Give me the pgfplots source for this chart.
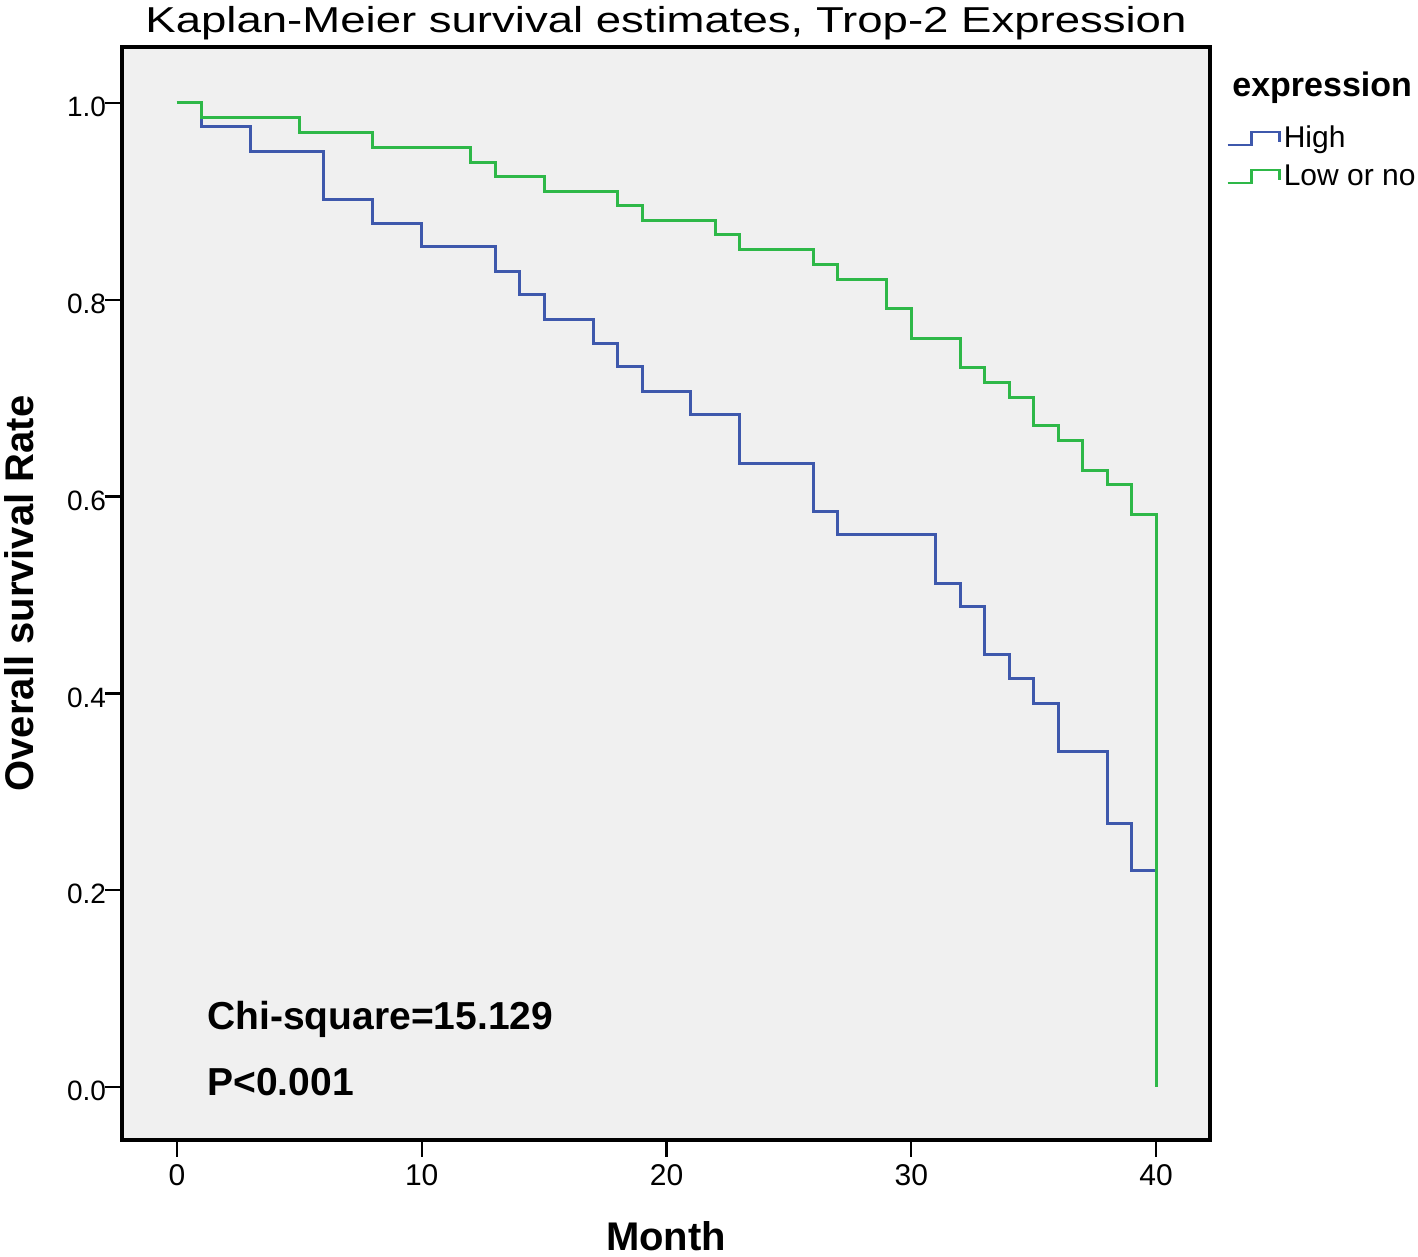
\documentclass[border=0pt]{standalone}
\usepackage{pgfplots}
\pgfplotsset{compat=1.18}
\usepackage{fontspec}
\setmainfont{Liberation Sans}
\definecolor{kmblue}{RGB}{62,88,172}
\definecolor{kmgreen}{RGB}{46,184,72}
\definecolor{bggray}{RGB}{240,240,240}

\pgfplotstableread{
t s
0 1
1 0.976
3 0.951
6 0.902
8 0.878
10 0.854
13 0.829
14 0.805
15 0.780
17 0.756
18 0.732
19 0.707
21 0.683
23 0.634
26 0.585
27 0.561
31 0.512
32 0.488
33 0.439
34 0.415
35 0.390
36 0.341
38 0.268
39 0.220
40 0
}\highdata

\pgfplotstableread{
t s
0 1
1 0.985
5 0.970
8 0.955
12 0.940
13 0.925
15 0.910
18 0.896
19 0.881
22 0.866
23 0.851
26 0.836
27 0.821
29 0.791
30 0.761
32 0.731
33 0.716
34 0.701
35 0.672
36 0.657
37 0.627
38 0.612
39 0.582
40 0
}\lowdata

\begin{document}
\begin{tikzpicture}
\begin{axis}[
  scale only axis, width=544pt, height=546.5pt,
  xmin=-2.247, xmax=42.206, ymin=-0.0539, ymax=1.0569,
  axis background/.style={fill=bggray},
  axis line style={black, line width=1.6pt},
  tick align=outside, tick pos=left,
  major tick length=8.5pt,
  every tick/.style={black, line width=1.2pt},
  xtick={0,10,20,30,40},
  ytick={0,0.2,0.4,0.6,0.8,1.0},
  yticklabel style={/pgf/number format/.cd, fixed, fixed zerofill, precision=1, /tikz/.cd, xshift=4pt, yshift=-2pt, font=\fontsize{14pt}{17pt}\selectfont},
  xticklabel style={font=\fontsize{15pt}{18pt}\selectfont},
  /pgf/number format/assume math mode=true,
  every axis title shift=0pt,
  title={\scalebox{1.265}[1]{Kaplan-Meier survival estimates, Trop-2 Expression}},
  title style={font=\fontsize{18pt}{21pt}\selectfont, at={(axis description cs:0.5,1.0128)}, anchor=base, yshift=0pt},
  xlabel={Month}, ylabel={Overall survival Rate},
  xlabel style={font=\bfseries\fontsize{20pt}{24pt}\selectfont, at={(axis description cs:0.5,-0.088)}, anchor=center},
  ylabel style={font=\bfseries\fontsize{20pt}{24pt}\selectfont, at={(axis description cs:-0.0947,0.5)}, anchor=center},
  legend style={at={(axis description cs:1.0147,0.8984)}, anchor=west, draw=none, fill=none,
    font=\fontsize{15pt}{18pt}\selectfont, row sep=5pt, inner sep=0pt,
    nodes={inner xsep=1.5pt, inner ysep=0pt, text height=11pt, text depth=3pt}},
  legend cell align=left,
  legend image code/.code={\draw[#1, line width=1.2pt] (-1pt,-3pt) -- (11pt,-3pt) -- (11pt,3.5pt) -- (25pt,3.5pt) -- (25pt,-1.5pt);},
  clip=false,
]
\addplot[const plot, color=kmblue, line width=1.5pt, mark=none] table[x=t, y=s] {\highdata};
\addlegendentry{High}
\addplot[const plot, color=kmgreen, line width=1.5pt, mark=none] table[x=t, y=s] {\lowdata};
\addlegendentry{Low or no}
\node[anchor=base west, font=\bfseries\fontsize{19.5pt}{23pt}\selectfont, inner sep=0pt] at (axis cs:1.226,0.0579) {Chi-square=15.129};
\node[anchor=base west, font=\bfseries\fontsize{19.5pt}{23pt}\selectfont, inner sep=0pt] at (axis cs:1.226,-0.0091) {P<0.001};
\node[anchor=base west, font=\bfseries\fontsize{17pt}{20pt}\selectfont, inner sep=0pt] at (axis description cs:1.0202,0.9543) {expression};
\coordinate (ll) at (rel axis cs:0,0);
\coordinate (ur) at (rel axis cs:1,1);
\end{axis}
\pgfresetboundingbox
\path[use as bounding box] ([shift={(-61pt,-58.5pt)}]ll) rectangle ([shift={(104pt,23.5pt)}]ur);
\end{tikzpicture}
\end{document}
